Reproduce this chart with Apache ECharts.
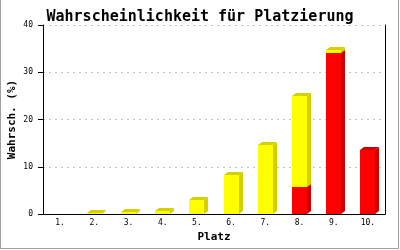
<!DOCTYPE html>
<html><head><meta charset="utf-8">
<script src="https://cdn.jsdelivr.net/npm/echarts@6/dist/echarts.min.js"></script>
<style>html,body{margin:0;padding:0;background:#fff}#c{width:400px;height:250px}</style>
</head><body><div id="c"></div>
<script>
const categories = ['1.','2.','3.','4.','5.','6.','7.','8.','9.','10.'];
const redValues = [0, 0, 0, 0, 0, 0, 0, 5.8, 34.1, 13.5];
const yellowValues = [0, 0.12, 0.35, 0.7, 3.0, 8.3, 14.6, 19.2, 0.6, 0];
const yMin = 0, yMax = 40, yStep = 10;

const FONT = 'DejaVu Sans Mono';
const chart = echarts.init(document.getElementById('c'), null, {renderer: 'canvas'});

function make3D(front, dark) {
  return function (params, api) {
    const i = api.value(0), b = api.value(1), t = api.value(2);
    if (!(t - b > 0)) return null;
    const p0 = api.coord([i, b]);
    const p1 = api.coord([i, t]);
    const w = 15, dx = 4, dy = 3;
    const x0 = Math.round(p0[0] - w / 2), x1 = x0 + w;
    const yb = Math.round(p0[1]), yt = Math.round(p1[1]);
    return {
      type: 'group',
      children: [
        {type: 'polygon', shape: {points: [[x1, yb], [x1, yt], [x1 + dx, yt - dy], [x1 + dx, yb - dy]]}, style: {fill: dark}},
        {type: 'polygon', shape: {points: [[x0, yt], [x1, yt], [x1 + dx, yt - dy], [x0 + dx, yt - dy]]}, style: {fill: dark}},
        {type: 'rect', shape: {x: x0, y: yt, width: w, height: yb - yt}, style: {fill: front}}
      ]
    };
  };
}

const redData = categories.map((c, i) => [i, 0, redValues[i]]);
const yellowData = categories.map((c, i) => [i, redValues[i], redValues[i] + yellowValues[i]]);

chart.setOption({
  animation: false,
  backgroundColor: '#fff',
  title: {
    text: 'Wahrscheinlichkeit für Platzierung',
    left: 'center', top: 5,
    textStyle: {fontFamily: FONT, fontWeight: 'bold', fontSize: 15, color: '#000'}
  },
  grid: {left: 43, right: 15, top: 25, bottom: 36, containLabel: false, outerBoundsMode: 'none'},
  xAxis: {
    type: 'category', data: categories,
    name: 'Platz', nameLocation: 'middle', nameGap: 18, nameMoveOverlap: false,
    nameTextStyle: {fontFamily: FONT, fontWeight: 'bold', fontSize: 11, color: '#000'},
    axisLine: {lineStyle: {color: '#000', width: 1}},
    axisTick: {show: false},
    axisLabel: {fontFamily: FONT, fontSize: 8, color: '#000', margin: 5}
  },
  yAxis: [{
    type: 'value', min: yMin, max: yMax, interval: yStep,
    name: 'Wahrsch. (%)', nameLocation: 'middle', nameGap: 25, nameMoveOverlap: false,
    nameTextStyle: {fontFamily: FONT, fontWeight: 'bold', fontSize: 11, color: '#000'},
    axisLine: {show: true, lineStyle: {color: '#000', width: 1}},
    axisTick: {show: true, length: 5, lineStyle: {color: '#000'}},
    axisLabel: {fontFamily: FONT, fontSize: 8, color: '#000', margin: 10},
    splitLine: {show: true, lineStyle: {color: '#c0c0c0', type: [2, 4], width: 1}}
  }, {
    type: 'value', min: yMin, max: yMax, interval: yStep, position: 'right',
    axisLine: {show: true, lineStyle: {color: '#000', width: 1}},
    axisTick: {show: false}, axisLabel: {show: false}, splitLine: {show: false}
  }],
  series: [
    {type: 'custom', name: 'rot', data: redData, encode: {x: 0, y: [1, 2]}, renderItem: make3D('#ff0000', '#cc0000'), z: 2},
    {type: 'custom', name: 'gelb', data: yellowData, encode: {x: 0, y: [1, 2]}, renderItem: make3D('#ffff00', '#d4d000'), z: 3}
  ],
  graphic: [
    {type: 'line', shape: {x1: 0.5, y1: 0, x2: 0.5, y2: 248.5}, style: {stroke: '#a0a0a0', lineWidth: 1}},
    {type: 'line', shape: {x1: 398.5, y1: 0, x2: 398.5, y2: 248.5}, style: {stroke: '#a0a0a0', lineWidth: 1}},
    {type: 'line', shape: {x1: 0, y1: 248.5, x2: 399, y2: 248.5}, style: {stroke: '#a0a0a0', lineWidth: 1}}
  ]
});
</script>
</body></html>
